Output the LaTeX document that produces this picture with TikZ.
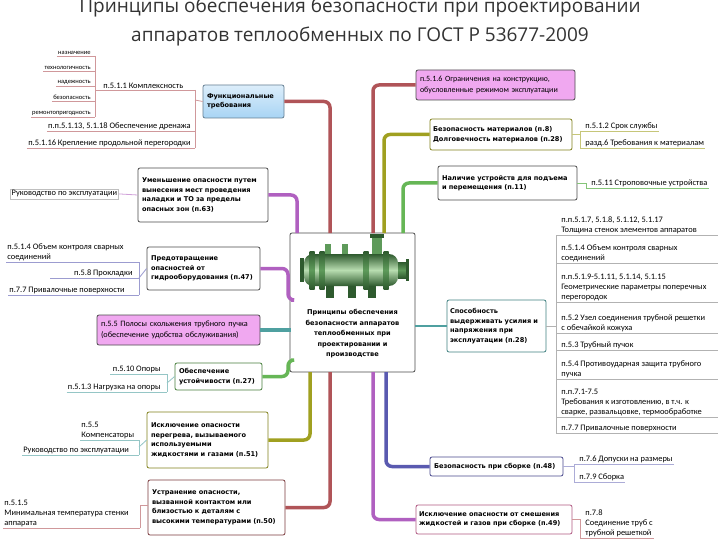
\documentclass[tikz,border=0pt]{standalone}
\usepackage{fontspec}
\setmainfont{Carlito}
\newfontfamily\bfam{DejaVu Sans}
\newfontfamily\ttl{Open Sans}
\usetikzlibrary{calc}
\definecolor{cred}{HTML}{B05458}
\definecolor{colive}{HTML}{A0A020}
\definecolor{cgreen}{HTML}{66B656}
\definecolor{cpurple}{HTML}{B060C0}
\definecolor{cteal}{HTML}{4FA0A0}
\definecolor{cindigo}{HTML}{5A5AB0}
\definecolor{cpink}{HTML}{F0A8F0}
\definecolor{cblue}{HTML}{A8D4F4}
\definecolor{gdark}{HTML}{2E5A2E}
\definecolor{gmid}{HTML}{5E9A5A}
\definecolor{glight}{HTML}{B8DDB0}
\tikzset{
 bx/.style={draw=#1, line width=0.8pt, rounded corners=2pt, fill=white, font=\bfam\bfseries\fontsize{6.6}{9.5}\selectfont, align=left, inner sep=3pt},
 bx/.default=gray!60!black,
 leaf/.style={font=\fontsize{8.4}{10}\selectfont, inner sep=1.2pt, align=left},
 br/.style={draw=#1, line width=3.5pt, rounded corners=6pt},
 thin/.style={draw=#1, line width=0.8pt},
}
\begin{document}
\begin{tikzpicture}[x=1pt,y=-1pt]
\useasboundingbox (0,0) rectangle (720,540);
\clip (0,0) rectangle (720,540);
\fill[white] (0,0) rectangle (720,540);
% title
\node[font=\ttl\fontsize{19}{22}\selectfont, text=black!80] (t1) at (360,8) {Принципы обеспечения безопасности при проектировании};
\node[font=\ttl\fontsize{19}{22}\selectfont, text=black!80] (t2) at (360,37) {аппаратов теплообменных по ГОСТ Р 53677-2009};

% center
\node[bx, minimum width=125pt, minimum height=139pt, text width=115pt] (C) at (352.5,302.5) {};
\node[font=\bfam\bfseries\fontsize{6.6}{10.5}\selectfont, align=center, text width=120pt] (Ct) at (352.5,334) {Принципы обеспечения\\безопасности аппаратов\\теплообменных при\\проектировании и\\производстве};
% apparatus picture
\foreach \xx in {330,352,372} \fill[gdark] (\xx-4,282) rectangle (\xx+4,298);
\foreach \xx in {328,345} \fill[gmid] (\xx-3,244) rectangle (\xx+3,256);
\fill[gmid] (372,236) rectangle (382,256); \fill[gdark] (370,234) rectangle (384,238);
\fill[gdark] (300,258) rectangle (304,282);
\shade[top color=gdark, bottom color=gdark, middle color=glight, rounded corners=9pt] (304,254) rectangle (398,286);
\foreach \xx in {312,322,366,386} \shade[top color=gdark, bottom color=gdark, middle color=gmid] (\xx-2.5,251) rectangle (\xx+2.5,289);
\shade[top color=gdark, bottom color=gdark, middle color=gmid] (398,262) rectangle (406,278);
\fill[gdark] (406,259) rectangle (409,281);

% main boxes
\node[bx, minimum width=81pt, minimum height=33pt, text width=73pt, top color=cblue!40, bottom color=cblue, draw=cblue!60!black] (Fun) at (243.5,101.5) {Функциональные\\требования};
\node[bx, minimum width=130pt, minimum height=54pt, text width=122pt] (Um) at (203,195) {Уменьшение опасности путем\\вынесения мест проведения\\наладки и ТО за пределы\\опасных зон (п.63)};
\node[bx, minimum width=113pt, minimum height=43pt, text width=105pt] (Pr) at (203.5,268.5) {Предотвращение\\опасностей от\\гидрооборудования (п.47)};
\node[bx=gray!60!black, fill=cpink, minimum width=163pt, minimum height=30pt, text width=155pt, font=\fontsize{8.2}{10.5}\selectfont] (Pol) at (178.5,330) {п.5.5 Полосы скольжения трубного пучка\\(обеспечение удобства обслуживания)};
\node[bx=cgreen!70!black, minimum width=87pt, minimum height=27pt, text width=79pt] (Ob) at (218.5,376.5) {Обеспечение\\устойчивости (п.27)};
\node[bx=colive!80!black, minimum width=121pt, minimum height=56pt, text width=113pt] (Pe) at (207.5,440) {Исключение опасности\\перегрева, вызываемого\\используемыми\\жидкостями и газами (п.51)};
\node[bx=cred!70!black, minimum width=137pt, minimum height=55pt, text width=129pt] (Us) at (216.5,507.5) {Устранение опасности,\\вызванной контактом или\\близостью к деталям с\\высокими температурами (п.50)};
\node[bx=gray!60!black, fill=cpink, minimum width=159pt, minimum height=30pt, text width=151pt, font=\fontsize{8}{10.5}\selectfont] (Og) at (495.5,85) {п.5.1.6 Ограничения на конструкцию,\\обусловленные режимом эксплуатации};
\node[bx=colive!80!black, minimum width=142pt, minimum height=31pt, text width=136pt] (BM) at (501,134.5) {Безопасность материалов (п.8)\\Долговечность материалов (п.28)};
\node[bx, minimum width=139pt, minimum height=34pt, text width=131pt] (Na) at (507.5,183) {Наличие устройств для подъема\\и перемещения (п.11)};
\node[bx=cteal!80!black, minimum width=99pt, minimum height=52pt, text width=93pt] (Sp) at (496.5,326) {Способность\\выдерживать усилия и\\напряжения при\\эксплуатации (п.28)};
\node[bx=cindigo!80!black, minimum width=133pt, minimum height=19pt, text width=125pt] (Sb) at (496.5,466.5) {Безопасность при сборке (п.48)};
\node[bx=cred!60!cpurple, minimum width=154pt, minimum height=29pt, text width=150pt] (Sm) at (494,519.5) {Исключение опасности от смешения\\жидкостей и газов при сборке (п.49)};

% thick branches
\draw[br=cpurple] (297,233) |- (Um.east);
\draw[br=cred] (330,233) |- (Fun.east);
\draw[br=cred] (373,233) |- (Og.west);
\draw[br=colive] (384,233) |- (BM.west);
\draw[br=cgreen] (403,233) |- (Na.west);
\draw[br=cpurple] (Pr.east) -| (288,300) -- (291,300);
\draw[br=cteal] (Pol.east) -- (291,330);
\draw[br=cgreen] (Ob.east) -| (288,360) -- (291,360);
\draw[br=colive] (310,372) |- (Pe.east);
\draw[br=cred] (330,372) |- (Us.east);
\draw[br=cpurple] (373,372) |- (Sm.west);
\draw[br=cindigo] (386,372) |- (Sb.west);
\draw[draw=cteal, line width=1.2pt] (C.east |- Sp.west) -- (Sp.west);

% --- leaves: Функциональные
\draw[thin=cred!60] (Fun.west) -- (195,100);
\draw[thin=cred!60] (195,90) -- (195,148);
\node[leaf, anchor=south west] (k1) at (102,90) {п.5.1.1 Комплексность};
\draw[thin=cred!60] (96,90) -- (195,90);
\node[leaf, anchor=south east] (k2) at (192,131) {п.п.5.1.13, 5.1.18 Обеспечение дренажа};
\draw[thin=cred!60] (k2.south west) -- (195,131);
\node[leaf, anchor=south east] (k3) at (192,148) {п.5.1.16 Крепление продольной перегородки};
\draw[thin=cred!60] (k3.south west) -- (195,148);
\draw[thin=cred!60] (95,56) -- (95,117);
\foreach \nm/\tx/\yy in {a1/назначение/56, a2/технологичность/71, a3/надежность/86, a4/безопасность/101, a5/ремонтопригодность/117}{
 \node[leaf, font=\fontsize{6.5}{7}\selectfont, anchor=south east] (\nm) at (92,\yy) {\tx};
 \draw[thin=cred!60] (\nm.south west) -- (95,\yy);
}
% Уменьшение
\node[leaf, anchor=south west, draw=gray!50, inner sep=1.5pt] (r1) at (10,199) {Руководство по эксплуатации};
\draw[thin=cpurple!60] (r1.east) -- (Um.west);
% Предотвращение
\node[leaf, anchor=south west] (p1) at (6,262) {п.5.1.4 Объем контроля сварных\\соединений};
\node[leaf, anchor=south east] (p2) at (134,278) {п.5.8 Прокладки};
\node[leaf, anchor=south west] (p3) at (8,295) {п.7.7 Привалочные поверхности};
\draw[thin=cindigo!60] (6,262) -- (139,262); \draw[thin=cindigo!60] (50,278) -- (139,278); \draw[thin=cindigo!60] (p3.south west) -- (139,295);
\draw[thin=cindigo!60] (139,262) -- (139,295);
\draw[thin=cindigo!60] (139,278) -- (Pr.west);
% Обеспечение
\node[leaf, anchor=south east] (o1) at (162,374) {п.5.10 Опоры};
\node[leaf, anchor=south east] (o2) at (162,392) {п.5.1.3 Нагрузка на опоры};
\draw[thin=cteal!60] (110,374) -- (167,374); \draw[thin=cteal!60] (o2.south west) -- (167,392);
\draw[thin=cteal!60] (167,374) -- (167,392); \draw[thin=cteal!60] (167,383) -- (Ob.west);
% Перегрев
\node[leaf, anchor=south west] (e1) at (80,440) {п.5.5\\Компенсаторы};
\node[leaf, anchor=south west] (e2) at (22,455) {Руководство по эксплуатации};
\draw[thin=cteal!60] (80,440) -- (139,440); \draw[thin=cteal!60] (e2.south west) -- (139,455);
\draw[thin=cteal!60] (139,440) -- (139,455); \draw[thin=cteal!60] (139,447) -- (Pe.west);
% Устранение
\node[leaf, anchor=south west] (u1) at (3,528) {п.5.1.5\\Минимальная температура стенки\\аппарата};
\draw[thin=cred!60] (3,528) -- (140,528); \draw[thin=cred!60] (140,528) -- (140,505) -- (Us.west |- 505,505);

% Безопасность материалов
\node[leaf, anchor=south west] (m1) at (584,131) {п.5.1.2 Срок службы};
\node[leaf, anchor=south west] (m2) at (584,148) {разд.6 Требования к материалам};
\draw[thin=colive!60] (580,131) -- (m1.south east); \draw[thin=colive!60] (580,148) -- (m2.south east);
\draw[thin=colive!60] (580,131) -- (580,148); \draw[thin=colive!60] (BM.east) -- (580,134.5);
% Наличие
\node[leaf, anchor=south west] (n1) at (590,188) {п.5.11 Строповочные устройства};
\draw[thin=cgreen!80] (Na.east) -- (586,183) -- (586,188) -- (n1.south east);
% Способность
\draw[thin=gray!60] (Sp.east) -- (556,326);
\draw[thin=gray!60] (556,235) -- (556,433);
\foreach \nm/\tx/\yy in {
 s1/{п.п.5.1.7, 5.1.8, 5.1.12, 5.1.17\\Толщина стенок элементов аппаратов}/235,
 s2/{п.5.1.4 Объем контроля сварных\\соединений}/263,
 s3/{п.п.5.1.9-5.1.11, 5.1.14, 5.1.15\\Геометрические параметры поперечных\\перегородок}/302,
 s4/{п.5.2 Узел соединения трубной решетки\\с обечайкой кожуха}/333,
 s5/{п.5.3 Трубный пучок}/350,
 s6/{п.5.4 Противоударная защита трубного\\пучка}/379,
 s7/{п.п.7.1-7.5\\Требования к изготовлению, в т.ч. к\\сварке, развальцовке, термообработке}/417,
 s8/{п.7.7 Привалочные поверхности}/433}{
 \node[leaf, anchor=south west] (\nm) at (560,\yy) {\tx};
 \draw[thin=gray!60] (556,\yy) -- (718,\yy);
}
% Сборка
\node[leaf, anchor=south west] (b1) at (578,464) {п.7.6 Допуски на размеры};
\node[leaf, anchor=south west] (b2) at (578,482) {п.7.9 Сборка};
\draw[thin=cindigo!50] (574,464) -- (b1.south east); \draw[thin=cindigo!50] (574,482) -- (b2.south east);
\draw[thin=cindigo!50] (574,464) -- (574,482); \draw[thin=cindigo!50] (Sb.east) -- (574,466.5);
% Смешение
\node[leaf, anchor=south west] (x1) at (584,538) {п.7.8\\Соединение труб с\\трубной решеткой};
\draw[thin=cred!60] (Sm.east) -- (580,519.5) -- (580,538) -- (x1.south east);
\end{tikzpicture}
\end{document}
